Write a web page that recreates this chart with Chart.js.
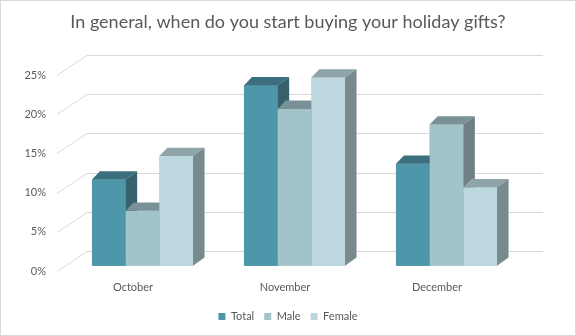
<!DOCTYPE html>
<html>
<head>
<meta charset="utf-8">
<script src="https://cdn.jsdelivr.net/npm/chart.js@4"></script>
<style>
    html, body { margin: 0; padding: 0; background: #fff; }
    #wrap { width: 576px; height: 336px; position: relative; }
</style>
</head>
<body>
<div id="wrap"><canvas id="graph" width="576" height="336"></canvas></div>
<script>
const months = ['October', 'November', 'December'];
const total = [11, 23, 13];
const male = [7, 20, 18];
const female = [14, 24, 10];
const yTicks = [0, 5, 10, 15, 20, 25];

// face colours per series: front, top, side
const faceFront = ['#4e96aa', '#a3c3ca', '#bcd8de'];
const faceTop = ['#3b6f7d', '#7a9297', '#8ea4a8'];
const faceSide = ['#35606c', '#6d8084', '#798a8d'];

const BAR_SHIFT_X = 9.5;
const BAR_SHIFT_Y = -5.3;
const WALL_DX = 30;
const WALL_DY = -20;

function drawBox(ctx, bar, i) {
    const dxL = 8, dxR = 11.5, dy = -8.3;
    const left = bar.x - bar.width / 2;
    const right = bar.x + bar.width / 2;
    const top = bar.y;
    const base = bar.base;

    ctx.fillStyle = faceFront[i];
    ctx.fillRect(left, top, right - left, base - top);

    ctx.fillStyle = faceTop[i];
    ctx.beginPath();
    ctx.moveTo(left, top);
    ctx.lineTo(left + dxL, top + dy);
    ctx.lineTo(right + dxR, top + dy);
    ctx.lineTo(right, top);
    ctx.closePath();
    ctx.fill();

    ctx.fillStyle = faceSide[i];
    ctx.beginPath();
    ctx.moveTo(right, top);
    ctx.lineTo(right + dxR, top + dy);
    ctx.lineTo(right + dxR, base + dy);
    ctx.lineTo(right, base);
    ctx.closePath();
    ctx.fill();
}

const wallPlugin = {
    id: 'wall',
    beforeDatasetsDraw(chart) {
        const ctx = chart.ctx;
        const y = chart.scales.y;
        const area = chart.chartArea;
        ctx.save();
        ctx.strokeStyle = '#d9d9d9';
        ctx.lineWidth = 1;
        yTicks.forEach(function (v) {
            const py = Math.round(y.getPixelForValue(v)) + 0.5;
            const by = py + WALL_DY;
            ctx.beginPath();
            ctx.moveTo(area.left, py);
            ctx.lineTo(area.left + WALL_DX, by);
            ctx.lineTo(area.right + WALL_DX, by);
            ctx.stroke();
        });
        ctx.restore();

        ctx.save();
        ctx.translate(BAR_SHIFT_X, BAR_SHIFT_Y);
    },
    afterDatasetsDraw(chart) {
        const ctx = chart.ctx;
        // redraw as boxes left to right so each side face is hidden by the next bar
        months.forEach(function (m, j) {
            chart.data.datasets.forEach(function (ds, i) {
                const bar = chart.getDatasetMeta(i).data[j];
                drawBox(ctx, bar, i);
            });
        });
        ctx.restore();
    },
    afterDraw(chart) {
        const ctx = chart.ctx;
        ctx.save();
        ctx.strokeStyle = '#d9d9d9';
        ctx.strokeRect(0.5, 0.5, chart.width - 1, chart.height - 1);
        ctx.restore();
    }
};

const bgPlugin = {
    id: 'bg',
    beforeDraw(chart) {
        const ctx = chart.ctx;
        ctx.save();
        ctx.fillStyle = '#ffffff';
        ctx.fillRect(0, 0, chart.width, chart.height);
        ctx.restore();
    }
};

const graph = new Chart(document.getElementById('graph'), {
    type: 'bar',
    data: {
        labels: months,
        datasets: [
            {label: 'Total', data: total, backgroundColor: faceFront[0], clip: false},
            {label: 'Male', data: male, backgroundColor: faceFront[1], clip: false},
            {label: 'Female', data: female, backgroundColor: faceFront[2], clip: false}
        ]
    },
    options: {
        responsive: false,
        animation: false,
        events: [],
        layout: {padding: {left: 0, right: 0, top: 0, bottom: 4}},
        datasets: {
            bar: {categoryPercentage: 0.665, barPercentage: 1}
        },
        scales: {
            x: {
                grid: {display: false, drawTicks: false},
                border: {display: false},
                ticks: {color: '#595959', font: {family: 'Lato', size: 11}, padding: 10},
                afterFit: function (scale) { scale.height = 30; }
            },
            y: {
                min: 0,
                max: 25,
                grid: {display: false, drawTicks: false},
                border: {display: false},
                ticks: {
                    stepSize: 5,
                    color: '#595959',
                    font: {family: 'Lato', size: 11},
                    padding: 11,
                    callback: function (v) { return v + '%'; }
                },
                afterFit: function (scale) { scale.width = 57; }
            },
            // empty right axis keeps room for the depth of the back wall
            yRight: {
                position: 'right',
                display: true,
                grid: {display: false, drawTicks: false},
                border: {display: false},
                ticks: {display: false},
                afterFit: function (scale) { scale.width = 63; }
            }
        },
        plugins: {
            title: {
                display: true,
                text: 'In general, when do you start buying your holiday gifts?',
                color: '#595959',
                font: {family: 'Lato', size: 18, weight: 'normal'},
                padding: {top: 11, bottom: 42.4}
            },
            legend: {
                position: 'bottom',
                labels: {
                    boxWidth: 7,
                    boxHeight: 7,
                    padding: 10,
                    color: '#595959',
                    font: {family: 'Lato', size: 11}
                }
            },
            tooltip: {enabled: false}
        }
    },
    plugins: [bgPlugin, wallPlugin]
});
</script>
</body>
</html>
